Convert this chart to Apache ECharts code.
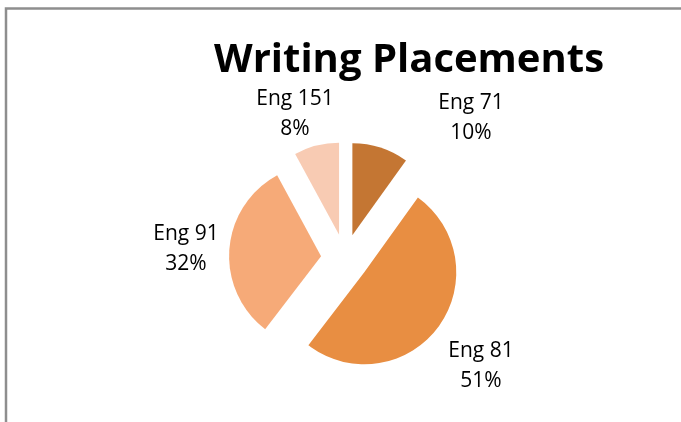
<!DOCTYPE html>
<html>
<head>
<meta charset="utf-8">
<script src="https://cdn.jsdelivr.net/npm/echarts@6/dist/echarts.min.js"></script>
<style>
  html, body { margin: 0; padding: 0; background: #fff; }
  #chart { width: 681px; height: 422px; }
</style>
</head>
<body>
<div id="chart"></div>
<script>
// 数据
var courses = ['Eng 71', 'Eng 81', 'Eng 91', 'Eng 151'];
var percents = [10, 51, 32, 8];
var colors = ['#C47633', '#E88E42', '#F6AA78', '#F8CBB3'];
// 标签中心位置
var labelX = [471, 481, 186, 295];
var labelY = [118, 366, 249, 114];

var myChart = echarts.init(document.getElementById('chart'));

// 扇区(分离显示)
var pieData = [];
// 标签(不分离,透明扇区)
var labelData = [];
for (var i = 0; i < courses.length; i++) {
    pieData.push({
        name: courses[i],
        value: percents[i],
        selected: true,
        itemStyle: { color: colors[i] }
    });
    labelData.push({ name: courses[i], value: percents[i] });
}

var option = {
    animation: false,
    title: {
        text: 'Writing Placements',
        left: 209,
        top: 36,
        textStyle: {
            fontFamily: 'Open Sans',
            fontWeight: 'bold',
            fontSize: 40,
            color: '#000'
        }
    },
    graphic: [{
        type: 'polyline',
        shape: { points: [[6, 422], [6, 8.5], [681, 8.5]] },
        style: { stroke: '#8e8e8e', lineWidth: 2.5, fill: null },
        silent: true
    }],
    series: [{
        type: 'pie',
        center: [345, 258],
        radius: 92,
        startAngle: 90,
        clockwise: true,
        selectedMode: 'multiple',
        selectedOffset: 24,
        emphasis: { disabled: true },
        itemStyle: { borderWidth: 0 },
        label: { show: false },
        labelLine: { show: false },
        data: pieData
    }, {
        type: 'pie',
        center: [345, 258],
        radius: 92,
        startAngle: 90,
        clockwise: true,
        silent: true,
        emphasis: { disabled: true },
        itemStyle: { color: 'rgba(0,0,0,0)', borderWidth: 0 },
        label: {
            show: true,
            position: 'outside',
            formatter: '{a|{b}}\n{a|{c}%}',
            rich: {
                a: {
                    fontFamily: 'Open Sans',
                    fontSize: 21,
                    lineHeight: 30,
                    color: '#000',
                    align: 'center'
                }
            }
        },
        labelLine: { show: false },
        labelLayout: function (params) {
            return {
                x: labelX[params.dataIndex],
                y: labelY[params.dataIndex],
                align: 'center',
                verticalAlign: 'middle'
            };
        },
        data: labelData
    }]
};
myChart.setOption(option);
</script>
</body>
</html>
